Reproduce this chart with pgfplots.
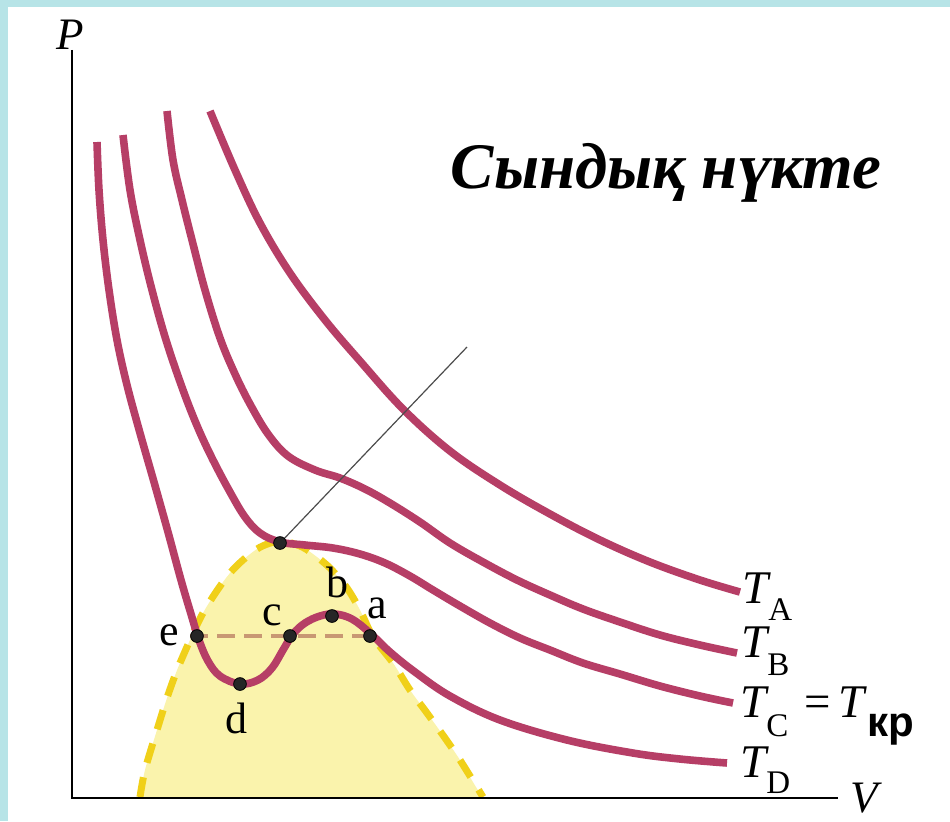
\documentclass[border=0pt]{standalone}
\usepackage{pgfplots}
\pgfplotsset{compat=1.18}
\usepackage{fontspec}
\setmainfont{Liberation Serif}
\setsansfont{Liberation Sans}
\definecolor{iso}{RGB}{182,62,102}
\definecolor{frame}{RGB}{183,228,231}
\definecolor{dome}{RGB}{250,243,172}
\definecolor{domeline}{RGB}{240,208,25}
\definecolor{tan}{RGB}{200,152,115}
\newcommand{\Tl}{\fontsize{23.4bp}{24bp}\selectfont}
\newcommand{\Ts}{\fontsize{16.5bp}{17bp}\selectfont}
\begin{document}
\begin{tikzpicture}
\begin{axis}[
  scale only axis, width=475bp, height=410.5bp,
  xmin=0, xmax=950, ymin=0, ymax=821, y dir=reverse,
  hide axis, clip=false,
]
% frame
\addplot[draw=none, fill=frame] coordinates {(0,0)(950,0)(950,821)(0,821)} -- cycle;
\addplot[draw=none, fill=white] coordinates {(8,7)(950,7)(950,821)(8,821)} -- cycle;
% two-phase dome fill
\addplot[draw=none, fill=dome, smooth, tension=0.5] coordinates {
(140,797)(145,770)(157,730)(168,695)(180,663)(203,613)(230,573)(257,549)(280,541)(300,546)(313,554)(330,568)(347,588)(360,610)(373,637)(393,663)(410,690)(427,713)(445,738)(460,760)(483,797)(497,797)} -- cycle;
% dome boundary
\addplot[domeline, line width=3.5bp, dash pattern=on 10bp off 7.5bp, smooth, tension=0.5] coordinates {
(140,797)(145,770)(157,730)(168,695)(180,663)(203,613)(230,573)(257,549)(280,541)(300,546)(313,554)(330,568)(347,588)(360,610)(373,637)(393,663)(410,690)(427,713)(445,738)(460,760)(483,797)};
% horizontal e-a
\addplot[tan, line width=1.8bp, dash pattern=on 9bp off 4.5bp] coordinates {(190,636)(372,636)};
% axes
\addplot[black, line width=1.3bp] coordinates {(72,50)(72,798)(838,798)};
% isotherms
\addplot[iso, line width=3.8bp, smooth, tension=0.6] coordinates {
(210,111)(235,170)(260,223)(290,273)(325,320)(360,361)(403,409)(450,451)(500,485)(550,514)(600,540)(650,562)(700,580)(740,592)};
\addplot[iso, line width=3.8bp, smooth, tension=0.6] coordinates {
(167,111)(173,160)(182,200)(192,240)(205,290)(220,338)(235,374)(250,404)(268,434)(288,456)(315,470)(340,478)(365,489)(390,503)(420,522)(450,543)(483,562)(517,580)(550,595)(583,609)(620,622)(660,635)(700,645)(737,653)};
\addplot[iso, line width=3.8bp, smooth, tension=0.6] coordinates {
(123,135)(130,190)(140,240)(152,290)(166,340)(183,390)(198,428)(213,460)(230,492)(245,517)(260,533)(280,542)(305,545)(333,548)(360,554)(385,563)(410,576)(433,590)(460,606)(490,623)(520,638)(550,650)(583,663)(620,674)(660,686)(700,696)(733,703)};
\addplot[iso, line width=3.8bp, smooth, tension=0.6] coordinates {
(97,142)(99,190)(103,240)(109,290)(117,340)(127,385)(140,433)(154,482)(168,532)(181,580)(191,614)(199,640)(208,661)(220,676)(240,684)(258,680)(272,668)(283,650)(293,634)(305,623)(320,616)(335,614)(352,619)(370,633)(390,652)(415,672)(450,696)(500,720)(567,740)(633,753)(680,759)(727,763)};
% pointer line
\addplot[black!70, line width=0.6bp] coordinates {(280,543)(467,347)};
% points
\addplot[only marks, mark=*, mark size=3.2pt, mark options={fill=black!85, draw=black}] coordinates {
(280,543)(197,636)(290,636)(332,616)(370,636)(240,684)};
% point labels
\node[anchor=base, font=\fontsize{22bp}{22bp}\selectfont] at (axis cs:169,645) {e};
\node[anchor=base, font=\fontsize{22bp}{22bp}\selectfont] at (axis cs:272,625) {c};
\node[anchor=base, font=\fontsize{22bp}{22bp}\selectfont] at (axis cs:337,597) {b};
\node[anchor=base, font=\fontsize{22bp}{22bp}\selectfont] at (axis cs:377,618) {a};
\node[anchor=base, font=\fontsize{22bp}{22bp}\selectfont] at (axis cs:236,733) {d};
% axis labels
\node[anchor=base, font=\fontsize{22.5bp}{23bp}\selectfont\itshape] at (axis cs:70,50) {P};
\node[anchor=base, font=\fontsize{22.5bp}{23bp}\selectfont\itshape] at (axis cs:864,812) {V};
% title
\node[anchor=base, font=\fontsize{32.5bp}{34bp}\selectfont\bfseries\itshape] at (axis cs:666,188) {Сындық нүкте};
% isotherm labels
\node[anchor=base west, inner sep=0pt] at (axis cs:742,603) {{\Tl\itshape T}\raisebox{-8.5bp}{\Ts A}};
\node[anchor=base west, inner sep=0pt] at (axis cs:741,657) {{\Tl\itshape T}\raisebox{-9bp}{\Ts B}};
\node[anchor=base west, inner sep=0pt] at (axis cs:740,717) {{\Tl\itshape T}\raisebox{-9.5bp}{\Ts C}\kern8bp{\Tl =}\kern4bp{\Tl\itshape T}\kern1.5bp\raisebox{-9.5bp}{\fontsize{21bp}{21bp}\selectfont\sffamily\bfseries кр}};
\node[anchor=base west, inner sep=0pt] at (axis cs:740,777) {{\Tl\itshape T}\raisebox{-8bp}{\Ts D}};
\end{axis}
\end{tikzpicture}
\end{document}
